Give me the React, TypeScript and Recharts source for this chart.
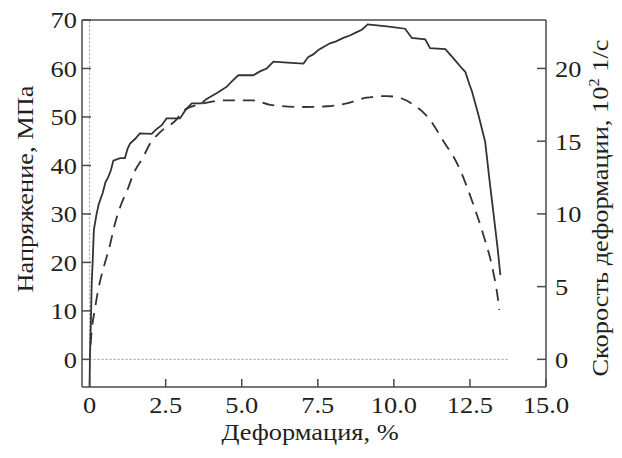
import React from 'react';
import { ComposedChart, Line, XAxis, YAxis, ReferenceLine } from 'recharts';

const stressStrain = [0, 0.01, 0.03, 0.05, 0.07, 0.1, 0.14, 0.23, 0.3, 0.43, 0.52, 0.61, 0.7, 0.78, 1.0, 1.16, 1.25, 1.33, 1.5, 1.65, 2.04, 2.2, 2.37, 2.53, 2.97, 3.16, 3.36, 3.68, 3.82, 3.96, 4.2, 4.35, 4.5, 4.7, 4.89, 5.38, 5.6, 5.82, 6.04, 6.5, 7.03, 7.19, 7.35, 7.52, 7.7, 7.9, 8.1, 8.34, 8.55, 8.78, 8.95, 9.14, 9.77, 10.37, 10.59, 11.03, 11.19, 11.69, 11.96, 12.24, 12.35, 12.49, 12.57, 12.78, 13.0, 13.15, 13.28, 13.41, 13.5];
const stressValues = [-5.7, 0, 5, 10, 16, 20, 26.7, 30, 32, 34.3, 36.5, 37.6, 39, 41, 41.5, 41.5, 43.5, 44.5, 45.5, 46.6, 46.5, 47.5, 48.3, 49.7, 49.7, 51.5, 52.8, 52.8, 53.6, 54.1, 55, 55.6, 56.2, 57.5, 58.6, 58.6, 59.4, 60, 61.4, 61.2, 61.0, 62.4, 62.9, 63.8, 64.5, 65.2, 65.6, 66.3, 66.8, 67.5, 68.0, 69.1, 68.7, 68.2, 66.3, 66.0, 64.2, 64.0, 62.1, 60, 59.3, 56.6, 55.2, 50.4, 44.9, 36.6, 29.8, 22.9, 17.4];

const rateStrain = [0.03, 0.07, 0.17, 0.28, 0.5, 0.65, 0.83, 1.0, 1.27, 1.43, 1.76, 1.98, 2.31, 2.86, 3.08, 3.74, 4.4, 5.37, 5.93, 7.03, 7.8, 8.45, 9.1, 9.77, 10.3, 10.65, 11.03, 11.14, 11.63, 12.07, 12.62, 12.95, 13.22, 13.39, 13.47];
const rateValues = [1.0, 2.0, 3.4, 4.75, 6.6, 7.7, 9.3, 10.45, 11.8, 12.7, 13.9, 14.8, 15.6, 16.5, 17.1, 17.6, 17.8, 17.8, 17.5, 17.35, 17.4, 17.6, 17.99, 18.1, 17.9, 17.5, 16.85, 16.6, 15.0, 13.5, 10.6, 8.5, 6.46, 4.6, 3.4];

const xTicks = [0, 2.5, 5, 7.5, 10, 12.5, 15];
const stressTicks = [0, 10, 20, 30, 40, 50, 60, 70];
const rateTicks = [0, 5, 10, 15, 20];

const stressData = stressStrain.map((x, i) => ({ x, stress: stressValues[i] }));
const rateData = rateStrain.map((x, i) => ({ x, rate: rateValues[i] }));

const FONT = "'Liberation Serif', 'Times New Roman', serif";
const TXT = '#231f20';
const AX = '#4a4a4a';
const SX = 1.1;
const FS = 24;

const fmtX = (v: number) => (v === 0 ? '0' : v.toFixed(1));

function LeftTick(props: any) {
  const { x, y, payload } = props;
  return (
    <g>
      <line x1={x + 5} x2={x + 14} y1={y} y2={y} stroke={AX} strokeWidth={1.5} />
      <text transform={`translate(${x},${y}) scale(${SX},1)`} textAnchor="end" dy="0.35em" fontSize={FS} fontFamily={FONT} fill={TXT}>
        {payload.value}
      </text>
    </g>
  );
}

function RightTick(props: any) {
  const { x, y, payload } = props;
  return (
    <g>
      <line x1={x - 9} x2={x - 18} y1={y} y2={y} stroke={AX} strokeWidth={1.5} />
      <text transform={`translate(${x},${y}) scale(${SX},1)`} textAnchor="start" dy="0.35em" fontSize={FS} fontFamily={FONT} fill={TXT}>
        {payload.value}
      </text>
    </g>
  );
}

function BottomTick(props: any) {
  const { x, y, payload } = props;
  return (
    <g>
      <line x1={x} x2={x} y1={y - 9} y2={y - 17} stroke={AX} strokeWidth={1.5} />
      <text transform={`translate(${x},${y}) scale(${SX},1)`} textAnchor="middle" dy="0.71em" fontSize={FS} fontFamily={FONT} fill={TXT}>
        {fmtX(payload.value)}
      </text>
    </g>
  );
}

const LeftTitle = (props: any) => {
  const vb = props.viewBox;
  const cx = vb.x + 17;
  const cy = vb.y + 169;
  return (
    <text transform={`translate(${cx},${cy}) rotate(-90) scale(${SX},1)`} textAnchor="middle" dy="0.35em" fontSize={FS} fontFamily={FONT} fill={TXT}>
      Напряжение, МПа
    </text>
  );
};

const RightTitle = (props: any) => {
  const vb = props.viewBox;
  const cx = vb.x + 54;
  const cy = vb.y + 188;
  return (
    <text transform={`translate(${cx},${cy}) rotate(-90) scale(${SX},1)`} textAnchor="middle" dy="0.35em" fontSize={FS} fontFamily={FONT} fill={TXT}>
      Скорость деформации, 10<tspan dy="-9" fontSize={15}>2</tspan>
      <tspan dy="9"> 1/с</tspan>
    </text>
  );
};

const BottomTitle = (props: any) => {
  const vb = props.viewBox;
  const cx = vb.x + 228;
  const cy = vb.y + 53;
  return (
    <text transform={`translate(${cx},${cy}) scale(${SX},1)`} textAnchor="middle" fontSize={FS} fontFamily={FONT} fill={TXT}>
      Деформация, %
    </text>
  );
};

export default function App() {
  return (
    <ComposedChart width={606} height={442} margin={{ top: 12, right: 0, bottom: 0, left: 0 }}>
      <XAxis
        dataKey="x"
        type="number"
        domain={[-0.25, 15]}
        ticks={xTicks}
        allowDataOverflow
        height={63}
        tickSize={0}
        tickMargin={9}
        tick={<BottomTick />}
        axisLine={{ stroke: AX, strokeWidth: 1.5 }}
        label={{ content: BottomTitle }}
      />
      <YAxis
        yAxisId="left"
        orientation="left"
        type="number"
        domain={[-5.7, 70]}
        ticks={stressTicks}
        allowDataOverflow
        width={74}
        tickSize={0}
        tickMargin={5}
        tick={<LeftTick />}
        axisLine={{ stroke: AX, strokeWidth: 1.5 }}
        label={{ content: LeftTitle }}
      />
      <YAxis
        yAxisId="right"
        orientation="right"
        type="number"
        domain={[-1.9, 23.33]}
        ticks={rateTicks}
        allowDataOverflow
        width={68}
        tickSize={0}
        tickMargin={9}
        tick={<RightTick />}
        axisLine={{ stroke: AX, strokeWidth: 1.5 }}
        label={{ content: RightTitle }}
      />
      <ReferenceLine yAxisId="left" y={70} stroke={AX} strokeWidth={1.5} />
      <ReferenceLine
        yAxisId="left"
        segment={[{ x: 0, y: 0 }, { x: 0, y: 70 }]}
        stroke="#9a9a9a"
        strokeDasharray="2 2"
        strokeWidth={1}
      />
      <ReferenceLine
        yAxisId="left"
        segment={[{ x: 0, y: 0 }, { x: 13.8, y: 0 }]}
        stroke="#9a9a9a"
        strokeDasharray="2 2"
        strokeWidth={1}
      />
      <Line
        yAxisId="left"
        data={stressData}
        dataKey="stress"
        type="linear"
        stroke="#333"
        strokeWidth={1.8}
        dot={false}
        isAnimationActive={false}
      />
      <Line
        yAxisId="right"
        data={rateData}
        dataKey="rate"
        type="monotone"
        stroke="#333"
        strokeWidth={1.8}
        strokeDasharray="12 8"
        dot={false}
        isAnimationActive={false}
      />
    </ComposedChart>
  );
}
